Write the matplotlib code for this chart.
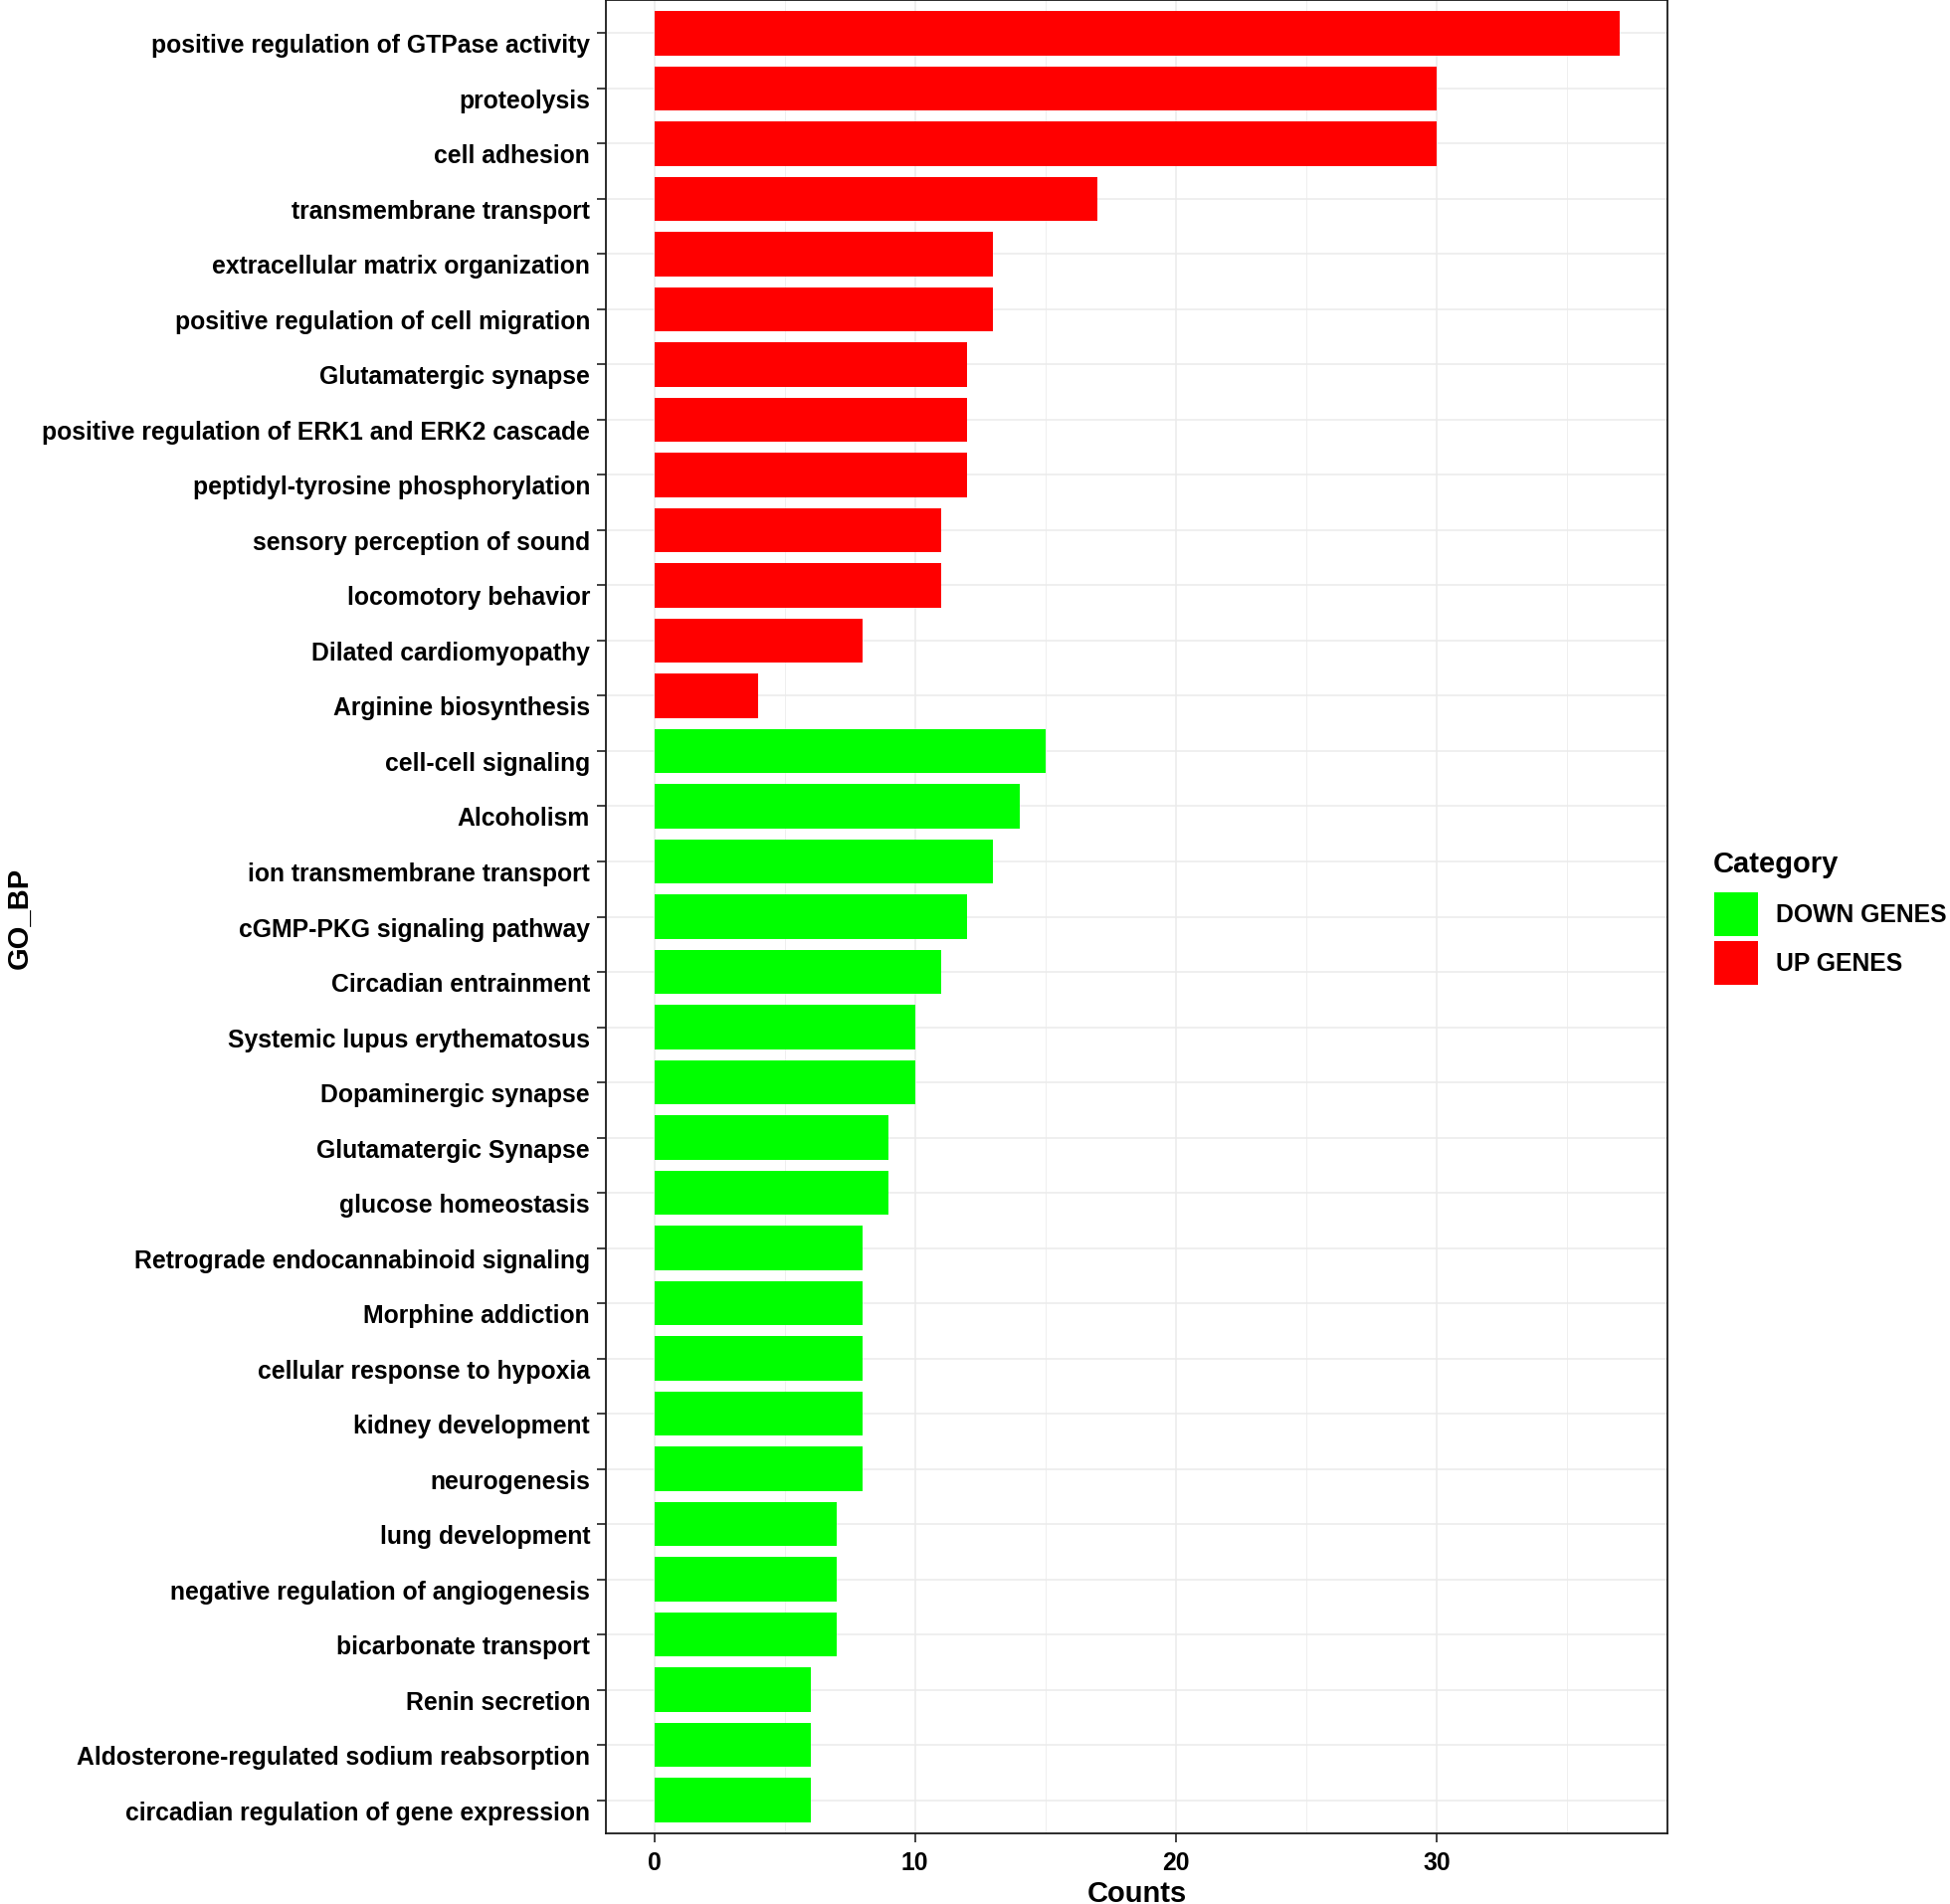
import matplotlib
matplotlib.use("Agg")
import matplotlib.pyplot as plt
from matplotlib.patches import Rectangle
from matplotlib.ticker import MultipleLocator

plt.rcParams['font.family'] = ['Liberation Sans', 'DejaVu Sans']

# ---- data (top to bottom as in the chart) ----
terms = [
    "positive regulation of GTPase activity",
    "proteolysis",
    "cell adhesion",
    "transmembrane transport",
    "extracellular matrix organization",
    "positive regulation of cell migration",
    "Glutamatergic synapse",
    "positive regulation of ERK1 and ERK2 cascade",
    "peptidyl-tyrosine phosphorylation",
    "sensory perception of sound",
    "locomotory behavior",
    "Dilated cardiomyopathy",
    "Arginine biosynthesis",
    "cell-cell signaling",
    "Alcoholism",
    "ion transmembrane transport",
    "cGMP-PKG signaling pathway",
    "Circadian entrainment",
    "Systemic lupus erythematosus",
    "Dopaminergic synapse",
    "Glutamatergic Synapse",
    "glucose homeostasis",
    "Retrograde endocannabinoid signaling",
    "Morphine addiction",
    "cellular response to hypoxia",
    "kidney development",
    "neurogenesis",
    "lung development",
    "negative regulation of angiogenesis",
    "bicarbonate transport",
    "Renin secretion",
    "Aldosterone-regulated sodium reabsorption",
    "circadian regulation of gene expression",
]
counts = [37, 30, 30, 17, 13, 13, 12, 12, 12, 11, 11, 8, 4,
          15, 14, 13, 12, 11, 10, 10, 9, 9, 8, 8, 8, 8, 8, 7, 7, 7, 6, 6, 6]
category = ["UP GENES"] * 13 + ["DOWN GENES"] * 20

legend_labels = ["DOWN GENES", "UP GENES"]
legend_colors = ["#00FF00", "#FF0000"]
color_map = dict(zip(legend_labels, legend_colors))

W, H = 1960, 1915
fig = plt.figure(figsize=(W / 100, H / 100), dpi=100)
L, R, T, B = 609, 1676, 1, 1844
ax = fig.add_axes([L / W, 1 - B / H, (R - L) / W, (B - T) / H])

n = len(terms)
ypos = list(range(n - 1, -1, -1))
ax.barh(ypos, counts, height=0.8, color=[color_map[c] for c in category],
        zorder=3, linewidth=0)

ax.set_xlim(-1.85, 38.85)
ax.set_ylim(-0.6, n - 1 + 0.6)
ax.set_yticks(ypos)
ax.set_yticklabels(terms)
ax.xaxis.set_major_locator(MultipleLocator(10))
ax.xaxis.set_minor_locator(MultipleLocator(5))

ax.grid(True, which='major', color='#EBEBEB', linewidth=1.1, zorder=0)
ax.grid(True, which='minor', axis='x', color='#EBEBEB', linewidth=0.55, zorder=0)
ax.set_axisbelow(True)

for s in ax.spines.values():
    s.set_color('#1a1a1a')
    s.set_linewidth(1.3)

ax.tick_params(axis='both', which='major', length=6.5, width=1.3, color='#333333',
               labelsize=17.8, labelcolor='black')
ax.tick_params(axis='y', pad=5)
ax.tick_params(axis='x', pad=6)
ax.tick_params(which='minor', length=0)
for lab in ax.get_yticklabels() + ax.get_xticklabels():
    lab.set_fontweight('bold')
for lab in ax.get_yticklabels():
    lab.set_va('top')

ax.set_xlabel("Counts", fontsize=21, fontweight='bold', va='baseline')
ax.xaxis.set_label_coords(0.5, -(1912 - B) / (B - T))
ax.set_ylabel("GO_BP", fontsize=21, fontweight='bold', va='center', ha='center')
ax.yaxis.set_label_coords((19.5 - L) / (R - L), 0.5)

# legend
fig.text(1722 / W, 1 - 877 / H, "Category", fontsize=21, fontweight='bold',
         ha='left', va='baseline')
key_tops = [898, 946.5]
for lab, col, top in zip(legend_labels, legend_colors, key_tops):
    fig.add_artist(Rectangle((1723 / W, 1 - (top + 44) / H), 44 / W, 44 / H,
                             transform=fig.transFigure, facecolor=col,
                             edgecolor='none'))
    fig.text(1785 / W, 1 - (top + 22) / H, lab, fontsize=17.8, fontweight='bold',
             ha='left', va='center')

fig.savefig("out.png", dpi=100, facecolor='white')
